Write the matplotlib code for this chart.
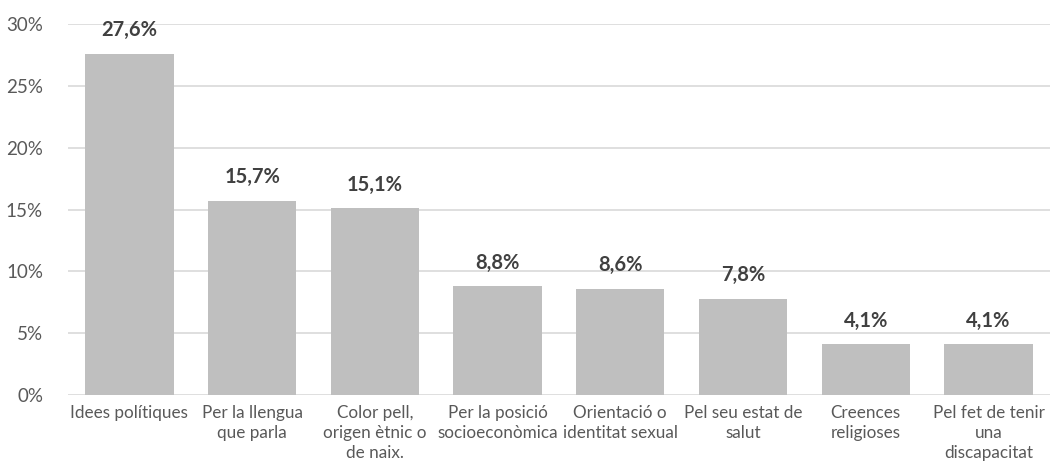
import numpy as np
import matplotlib.pyplot as plt
from matplotlib.ticker import FuncFormatter

plt.rcParams['font.family'] = ['Lato', 'DejaVu Sans']

categories = ['Idees polítiques', 'Per la llengua\nque parla', 'Color pell,\norigen ètnic o\nde naix.',
              'Per la posició\nsocioeconòmica', 'Orientació o\nidentitat sexual', 'Pel seu estat de\nsalut',
              'Creences\nreligioses', 'Pel fet de tenir\nuna\ndiscapacitat']
values = [27.6, 15.7, 15.1, 8.8, 8.6, 7.8, 4.1, 4.1]

fig = plt.figure(figsize=(10.53, 4.72), dpi=100)
ax = fig.add_axes([0.0646, 0.163, 0.9324, 0.786])

x = np.arange(len(categories))
ax.bar(x, values, width=0.72, color='#bfbfbf', zorder=2)

for xi, v in zip(x, values):
    ax.text(xi, v + 1.1, f'{v:.1f}%'.replace('.', ','), ha='center', va='bottom',
            fontsize=14.5, fontweight='bold', color='#404040')

ax.set_ylim(0, 30)
ax.set_xlim(-0.5, len(categories) - 0.5)
ax.set_yticks(np.arange(0, 31, 5))
ax.yaxis.set_major_formatter(FuncFormatter(lambda v, p: f'{v:.0f}%'))
ax.set_xticks(x)
ax.set_xticklabels(categories, fontsize=12.3, color='#595959', linespacing=1.3)
ax.tick_params(axis='y', labelsize=13.5, labelcolor='#595959', length=0, pad=18)
ax.tick_params(axis='x', length=0, pad=7)
ax.grid(axis='y', color='#d9d9d9', linewidth=1.2, zorder=0)
for s in ax.spines.values():
    s.set_visible(False)

fig.savefig('out.png', dpi=100)
